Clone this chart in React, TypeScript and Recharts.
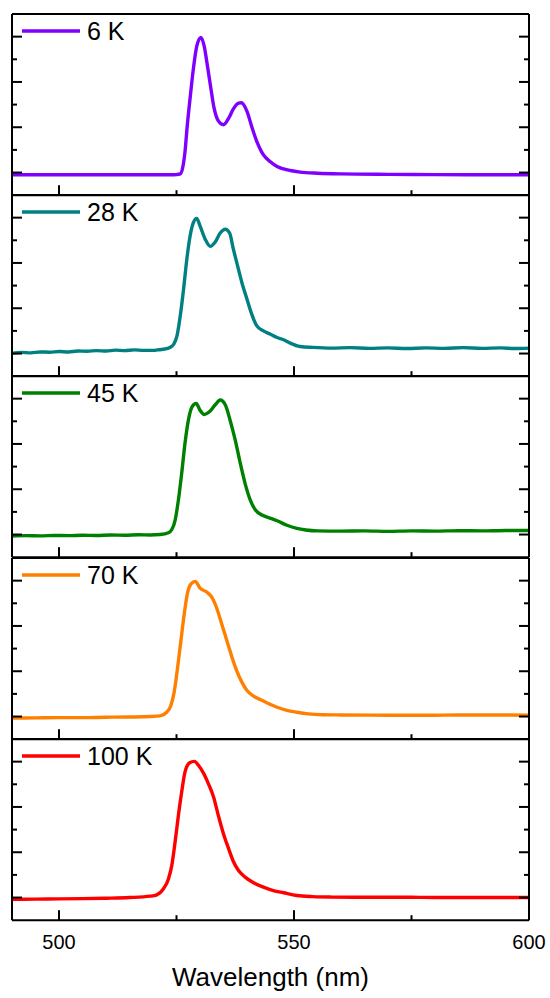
import { LineChart, Line, XAxis, YAxis, Legend } from "recharts";

// wavelength (nm) / PL intensity (a.u., offset per panel)
const wl6K = [490, 500, 510, 520, 524, 525, 525.8, 526.3, 526.8, 527.3, 527.9, 528.6, 529.3, 530.2, 530.9, 531.6, 532.3, 533.0, 533.9, 535.0, 536.1, 537.1, 538.2, 538.8, 540.0, 541.0, 542.1, 543.5, 544.9, 546.4, 547.8, 549.2, 551.3, 555, 560, 570, 580, 590, 600];
const pl6K = [0.9, 0.9, 0.9, 0.9, 0.9, 0.91, 0.94, 1.2, 1.9, 3.1, 4.3, 5.6, 6.57, 6.97, 6.57, 5.68, 4.73, 3.84, 3.28, 3.11, 3.4, 3.81, 4.06, 4.08, 3.7, 3.03, 2.37, 1.78, 1.49, 1.27, 1.16, 1.09, 1.02, 0.97, 0.94, 0.92, 0.91, 0.9, 0.9];

const wl28K = [490, 492, 494, 496, 498, 500, 502, 504, 506, 508, 510, 512, 514, 516, 518, 520, 521, 522.2, 523.6, 524.4, 525.1, 525.8, 526.5, 527.2, 527.9, 528.6, 529.3, 530.0, 531.1, 532.2, 533.2, 534.3, 535.4, 536.3, 537.1, 538.0, 538.9, 540.0, 541.0, 542.1, 543.5, 544.9, 546.4, 547.8, 549.2, 551.3, 554, 558, 562, 566, 570, 574, 578, 582, 586, 590, 594, 597, 600];
const pl28K = [1.02, 1.05, 1.03, 1.07, 1.06, 1.09, 1.07, 1.11, 1.1, 1.13, 1.11, 1.15, 1.13, 1.16, 1.14, 1.14, 1.16, 1.19, 1.27, 1.41, 1.78, 2.67, 3.84, 5.17, 6.2, 6.79, 6.97, 6.64, 6.05, 5.73, 5.91, 6.32, 6.49, 6.32, 5.61, 4.87, 4.14, 3.4, 2.74, 2.22, 2.0, 1.86, 1.71, 1.61, 1.46, 1.31, 1.27, 1.24, 1.26, 1.23, 1.25, 1.22, 1.25, 1.23, 1.26, 1.23, 1.25, 1.22, 1.24];

const wl45K = [490, 493, 496, 499, 502, 505, 508, 511, 514, 517, 519.4, 521.5, 523.3, 524.0, 524.7, 525.4, 526.1, 526.8, 527.6, 528.3, 529.2, 530.0, 530.9, 532.0, 533.2, 534.3, 535.4, 536.4, 537.5, 538.5, 539.6, 540.7, 541.8, 543.2, 544.6, 546.4, 548.5, 550.6, 552.5, 555, 560, 565, 570, 575, 580, 585, 590, 595, 600];
const pl45K = [0.93, 0.95, 0.94, 0.96, 0.95, 0.97, 0.96, 0.98, 0.97, 0.99, 0.98, 1.0, 1.08, 1.22, 1.63, 2.52, 3.7, 5.02, 6.13, 6.64, 6.79, 6.49, 6.3, 6.42, 6.72, 6.94, 6.72, 6.05, 5.17, 4.21, 3.25, 2.52, 2.08, 1.86, 1.75, 1.61, 1.41, 1.27, 1.2, 1.16, 1.15, 1.16, 1.14, 1.16, 1.15, 1.17, 1.16, 1.18, 1.18];

const wl70K = [490, 495, 500, 505, 510, 515, 519.4, 521.5, 522.9, 523.8, 524.5, 525.2, 525.9, 526.6, 527.3, 528.1, 529.0, 530.0, 531.5, 532.5, 533.6, 534.6, 535.7, 536.8, 537.8, 538.9, 540.0, 541.4, 542.8, 544.2, 546.4, 548.5, 550.6, 553, 556, 560, 570, 580, 590, 600];
const pl70K = [0.93, 0.94, 0.95, 0.95, 0.97, 0.98, 1.0, 1.03, 1.19, 1.49, 2.08, 3.11, 4.29, 5.46, 6.42, 6.86, 6.97, 6.67, 6.49, 6.27, 5.76, 5.1, 4.36, 3.62, 3.03, 2.52, 2.15, 1.9, 1.75, 1.61, 1.41, 1.27, 1.19, 1.12, 1.08, 1.07, 1.06, 1.06, 1.07, 1.06];

const wl100K = [490, 495, 500, 505, 510, 515, 519.4, 520.8, 522.2, 523.3, 524.0, 524.7, 525.4, 526.1, 526.8, 527.8, 528.8, 529.7, 530.8, 531.8, 532.9, 533.9, 535.0, 536.1, 537.1, 538.2, 539.6, 541.4, 543.5, 545.6, 547.8, 550.6, 554, 558, 565, 575, 585, 600];
const pl100K = [0.92, 0.93, 0.94, 0.95, 0.97, 1.0, 1.06, 1.12, 1.38, 1.83, 2.42, 3.45, 4.62, 5.66, 6.54, 6.95, 7.01, 6.83, 6.47, 6.02, 5.43, 4.62, 3.81, 3.15, 2.59, 2.19, 1.9, 1.65, 1.46, 1.31, 1.21, 1.09, 1.04, 1.02, 1.01, 1.01, 1.0, 1.0];

const temps = ["6 K", "28 K", "45 K", "70 K", "100 K"];
const colors = ["#7f00ff", "#008080", "#008000", "#ff8000", "#ff0000"];
const wavelengths = [wl6K, wl28K, wl45K, wl70K, wl100K];
const intensities = [pl6K, pl28K, pl45K, pl70K, pl100K];

const xTicks = [500, 525, 550, 575, 600];
const xMajor = [500, 550, 600];
const yTicks = [1, 2, 3, 4, 5, 6, 7];
const yMajor = [1, 3, 5, 7];

const FONT = '"Liberation Sans", Arial, sans-serif';
const TOP = 14;
const PANEL_H = 181.2;
const PAD = 3;

// inward ticks, drawn by hand so major/minor can differ in length
const xTick = (dir: number, labels: boolean) => (p: any) => {
  const major = xMajor.includes(p.payload.value);
  return (
    <g>
      <line x1={p.x} x2={p.x} y1={p.y} y2={p.y + dir * (major ? 10 : 5)} stroke="#000" strokeWidth={2} />
      {labels && major && (
        <text x={p.x} y={p.y + 29} textAnchor="middle" fontSize={20} fontFamily={FONT} fill="#000">
          {p.payload.value}
        </text>
      )}
    </g>
  );
};

const yTick = (dir: number) => (p: any) => {
  const major = yMajor.includes(p.payload.value);
  return <line x1={p.x} x2={p.x + dir * (major ? 10 : 5)} y1={p.y} y2={p.y} stroke="#000" strokeWidth={2} />;
};

const legendContent = (label: string, color: string) => () => (
  <svg width={200} height={40} style={{ display: "block" }}>
    <line x1={22} x2={80} y1={17} y2={17} stroke={color} strokeWidth={3.5} />
    <text x={87} y={26} fontSize={25} fontFamily={FONT} fill="#000">
      {label}
    </text>
  </svg>
);

function Panel({ i }: { i: number }) {
  const last = i === temps.length - 1;
  const data = wavelengths[i].map((w, k) => ({ wl: w, pl: intensities[i][k] }));
  const axisLine = { stroke: "#000", strokeWidth: 2 };
  return (
    <div style={{ position: "absolute", left: 0, top: TOP + i * PANEL_H - PAD }}>
      <LineChart
        width={550}
        height={PANEL_H + PAD + (last ? 75 : PAD)}
        data={data}
        margin={{ top: PAD - 1, right: 20, bottom: last ? 0 : PAD - 1, left: 11 }}
      >
        <XAxis
          xAxisId="b"
          dataKey="wl"
          type="number"
          domain={[490, 600]}
          allowDataOverflow
          ticks={xTicks}
          interval={0}
          height={last ? 75 : 1}
          tickSize={0}
          tickMargin={0}
          tickLine={false}
          axisLine={axisLine}
          tick={xTick(-1, last)}
          label={
            last
              ? { value: "Wavelength (nm)", position: "insideBottom", offset: 9, fontSize: 26, fill: "#000", fontFamily: FONT }
              : undefined
          }
        />
        <XAxis
          xAxisId="t"
          orientation="top"
          type="number"
          domain={[490, 600]}
          allowDataOverflow
          ticks={xTicks}
          interval={0}
          height={1}
          tickSize={0}
          tickMargin={0}
          tickLine={false}
          axisLine={axisLine}
          tick={xTick(1, false)}
        />
        <YAxis
          yAxisId="l"
          type="number"
          domain={[0, 8]}
          allowDataOverflow
          ticks={yTicks}
          interval={0}
          width={1}
          tickSize={0}
          tickMargin={0}
          tickLine={false}
          axisLine={axisLine}
          tick={yTick(1)}
        />
        <YAxis
          yAxisId="r"
          orientation="right"
          type="number"
          domain={[0, 8]}
          allowDataOverflow
          ticks={yTicks}
          interval={0}
          width={1}
          tickSize={0}
          tickMargin={0}
          tickLine={false}
          axisLine={axisLine}
          tick={yTick(-1)}
        />
        <Legend
          layout="vertical"
          align="center"
          verticalAlign="middle"
          wrapperStyle={{ left: 0, top: PAD, width: 200 }}
          content={legendContent(temps[i], colors[i])}
        />
        <Line
          xAxisId="b"
          yAxisId="l"
          type="monotone"
          dataKey="pl"
          name={temps[i]}
          stroke={colors[i]}
          strokeWidth={3.4}
          dot={false}
          isAnimationActive={false}
        />
      </LineChart>
    </div>
  );
}

export default function App() {
  return (
    <>
      <style>{"html, body { overflow: hidden; }"}</style>
      <div
        style={{
          position: "absolute",
          left: 0,
          top: 0,
          width: 550,
          height: 998,
          overflow: "hidden",
          background: "#fff",
          fontFamily: FONT,
        }}
      >
        {temps.map((_, i) => (
          <Panel key={i} i={i} />
        ))}
      </div>
    </>
  );
}
